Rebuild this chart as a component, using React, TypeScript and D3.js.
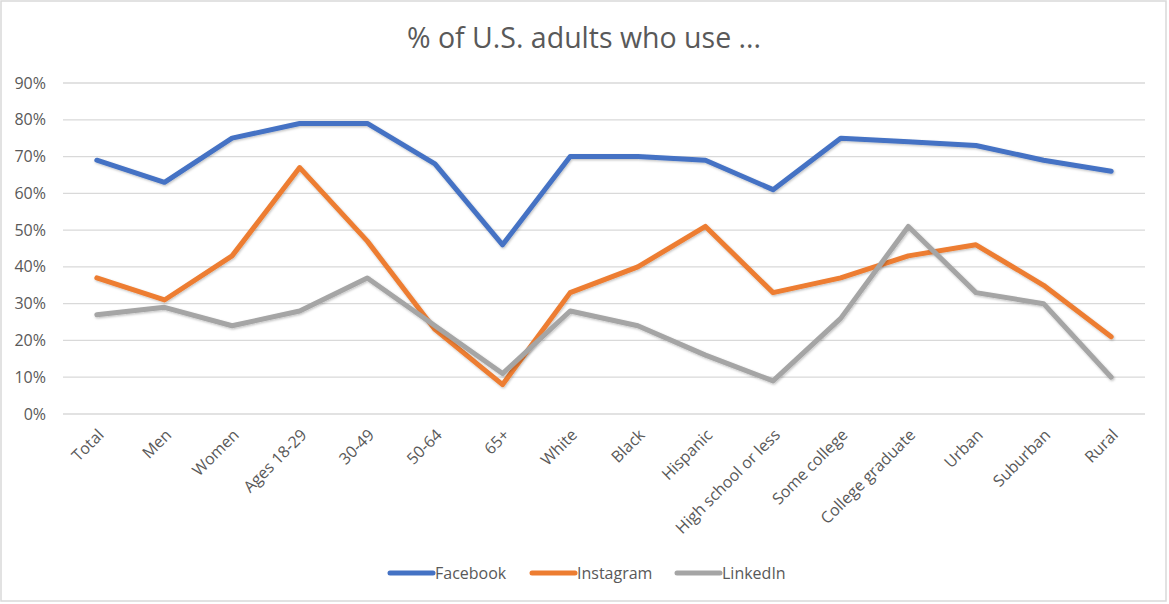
import React, { useRef, useEffect } from 'react';
import * as d3 from 'd3';

const categories = [
  'Total', 'Men', 'Women', 'Ages 18-29', '30-49', '50-64', '65+', 'White', 'Black',
  'Hispanic', 'High school or less', 'Some college', 'College graduate', 'Urban', 'Suburban', 'Rural'
];
const facebook = [69, 63, 75, 79, 79, 68, 46, 70, 70, 69, 61, 75, 74, 73, 69, 66];
const instagram = [37, 31, 43, 67, 47, 23, 8, 33, 40, 51, 33, 37, 43, 46, 35, 21];
const linkedin = [27, 29, 24, 28, 37, 24, 11, 28, 24, 16, 9, 26, 51, 33, 30, 10];
const yTicks = [0, 10, 20, 30, 40, 50, 60, 70, 80, 90];

const series = [
  { name: 'Facebook', values: facebook, color: '#4472C4' },
  { name: 'Instagram', values: instagram, color: '#ED7D31' },
  { name: 'LinkedIn', values: linkedin, color: '#A5A5A5' }
];

const W = 1169;
const H = 604;
const FONT = '"Open Sans", "Noto Sans", sans-serif';

const App: React.FC = () => {
  const ref = useRef<SVGSVGElement | null>(null);

  useEffect(() => {
    const svg = d3.select(ref.current);
    svg.selectAll('*').remove();

    // chart frame
    svg.append('rect')
      .attr('x', 1).attr('y', 1)
      .attr('width', 1165).attr('height', 600)
      .attr('fill', '#fff')
      .attr('stroke', '#D9D9D9')
      .attr('stroke-width', 1.5);

    const x = d3.scaleBand().domain(categories).range([63, 1145]);
    const cx = (c: string) => x(c)! + x.bandwidth() / 2;
    const y = d3.scaleLinear().domain([0, 90]).range([414, 83]);

    // title
    svg.append('text')
      .attr('x', 584).attr('y', 48)
      .attr('text-anchor', 'middle')
      .attr('font-family', FONT)
      .attr('font-size', 28.5)
      .attr('fill', '#595959')
      .text('% of U.S. adults who use ...');

    // gridlines
    svg.append('g').selectAll('line')
      .data(yTicks)
      .join('line')
      .attr('x1', 63).attr('x2', 1145)
      .attr('y1', (d) => y(d)).attr('y2', (d) => y(d))
      .attr('stroke', '#D9D9D9')
      .attr('stroke-width', 1.3);

    // y labels
    svg.append('g').selectAll('text')
      .data(yTicks)
      .join('text')
      .attr('x', 46)
      .attr('y', (d) => y(d))
      .attr('dy', '0.35em')
      .attr('text-anchor', 'end')
      .attr('font-family', FONT)
      .attr('font-size', 16)
      .attr('fill', '#595959')
      .text((d) => `${d}%`);

    // x labels
    svg.append('g').selectAll('text')
      .data(categories)
      .join('text')
      .attr('transform', (d) => `translate(${cx(d) + 4},${432}) rotate(-45)`)
      .attr('text-anchor', 'end')
      .attr('dy', '0.35em')
      .attr('font-family', FONT)
      .attr('font-size', 16)
      .attr('fill', '#595959')
      .text((d) => d);

    const defs = svg.append('defs');
    defs.append('filter')
      .attr('id', 'shadow')
      .attr('x', '-5%').attr('y', '-20%').attr('width', '110%').attr('height', '140%')
      .append('feDropShadow')
      .attr('dx', 0.8).attr('dy', 1.2)
      .attr('stdDeviation', 1.2)
      .attr('flood-color', '#000')
      .attr('flood-opacity', 0.25);

    const line = d3.line<number>()
      .x((_, i) => cx(categories[i]))
      .y((d) => y(d));

    series.forEach((s) => {
      svg.append('path')
        .datum(s.values)
        .attr('fill', 'none')
        .attr('stroke', s.color)
        .attr('stroke-width', 5)
        .attr('stroke-linejoin', 'round')
        .attr('stroke-linecap', 'round')
        .attr('filter', 'url(#shadow)')
        .attr('d', line as any);
    });

    // legend
    const legendX = [390, 532, 677];
    series.forEach((s, i) => {
      const g = svg.append('g').attr('transform', `translate(${legendX[i]},573)`);
      g.append('line')
        .attr('x1', 0).attr('x2', 43)
        .attr('y1', 0).attr('y2', 0)
        .attr('stroke', s.color)
        .attr('stroke-width', 5)
        .attr('stroke-linecap', 'round');
      g.append('text')
        .attr('x', 45).attr('y', 0)
        .attr('dy', '0.35em')
        .attr('font-family', FONT)
        .attr('font-size', 16)
        .attr('fill', '#595959')
        .text(s.name);
    });
  }, []);

  return (
    <div style={{ position: 'absolute', left: 0, top: 0 }}>
      <svg ref={ref} width={W} height={H} style={{ display: 'block' }} />
    </div>
  );
};

export default App;
